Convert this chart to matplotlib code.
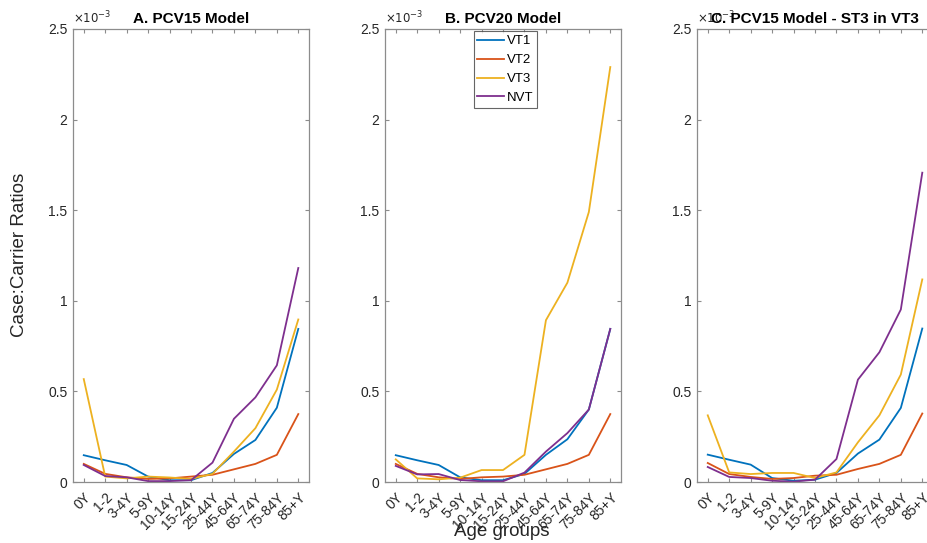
import numpy as np
import matplotlib
matplotlib.use("Agg")
import matplotlib.pyplot as plt
from matplotlib.ticker import FuncFormatter

plt.rcParams['font.family'] = ['Liberation Sans', 'DejaVu Sans']

# age groups on the x axis
ages = ['0Y', '1-2', '3-4Y', '5-9Y', '10-14Y', '15-24Y', '25-44Y',
        '45-64Y', '65-74Y', '75-84Y', '85+Y']
series = ['VT1', 'VT2', 'VT3', 'NVT']
colors = ['#0072BD', '#D95319', '#EDB120', '#7E2F8E']
titles = ['A. PCV15 Model', 'B. PCV20 Model', 'C. PCV15 Model - ST3 in VT3']

# case:carrier ratios, in units of 1e-3
a_vt1 = [0.148, 0.120, 0.094, 0.030, 0.010, 0.010, 0.050, 0.155, 0.232, 0.410, 0.845]
a_vt2 = [0.100, 0.045, 0.026, 0.017, 0.020, 0.030, 0.040, 0.070, 0.100, 0.150, 0.375]
a_vt3 = [0.568, 0.030, 0.020, 0.030, 0.025, 0.017, 0.045, 0.168, 0.297, 0.510, 0.897]
a_nvt = [0.094, 0.033, 0.026, 0.005, 0.005, 0.010, 0.107, 0.349, 0.467, 0.644, 1.181]

b_vt1 = [0.148, 0.120, 0.094, 0.026, 0.010, 0.010, 0.045, 0.150, 0.236, 0.400, 0.845]
b_vt2 = [0.100, 0.045, 0.026, 0.017, 0.026, 0.030, 0.040, 0.070, 0.100, 0.150, 0.375]
b_vt3 = [0.125, 0.020, 0.015, 0.024, 0.066, 0.066, 0.150, 0.893, 1.100, 1.490, 2.290]
b_nvt = [0.089, 0.042, 0.044, 0.011, 0.004, 0.004, 0.052, 0.168, 0.270, 0.400, 0.845]

c_vt1 = [0.151, 0.123, 0.096, 0.022, 0.007, 0.013, 0.050, 0.157, 0.234, 0.409, 0.847]
c_vt2 = [0.105, 0.044, 0.028, 0.017, 0.022, 0.035, 0.040, 0.072, 0.100, 0.150, 0.378]
c_vt3 = [0.368, 0.053, 0.044, 0.050, 0.050, 0.022, 0.053, 0.219, 0.368, 0.593, 1.118]
c_nvt = [0.083, 0.028, 0.022, 0.007, 0.002, 0.013, 0.127, 0.565, 0.716, 0.952, 1.707]

panels = [[a_vt1, a_vt2, a_vt3, a_nvt],
          [b_vt1, b_vt2, b_vt3, b_nvt],
          [c_vt1, c_vt2, c_vt3, c_nvt]]

fig = plt.figure(figsize=(9.28, 5.43), dpi=100)
lefts = [0.0787, 0.4149, 0.7511]
x = np.arange(len(ages))

for i, (left, data) in enumerate(zip(lefts, panels)):
    ax = fig.add_axes([left, 0.1123, 0.2543, 0.8343])
    for vals, col, name in zip(data, colors, series):
        ax.plot(x, np.array(vals) * 1e-3, color=col, lw=1.3, label=name)
    ax.set_xlim(-0.5, 10.5)
    ax.set_ylim(0, 2.5e-3)
    ax.set_yticks(np.arange(0, 2.51e-3, 0.5e-3))
    ax.yaxis.set_major_formatter(FuncFormatter(lambda v, p: f"{v * 1e3:g}"))
    ax.set_xticks(x)
    ax.set_xticklabels(ages, rotation=45, ha='right', rotation_mode='anchor')
    ax.tick_params(direction='in', top=True, right=True, length=3,
                   width=0.8, color='#8c8c8c', labelcolor='#262626',
                   labelsize=10, pad=4)
    ax.tick_params(axis='x', pad=6)
    for s in ax.spines.values():
        s.set_color('#8c8c8c')
        s.set_linewidth(0.9)
    ax.set_title(titles[i], fontsize=11, fontweight='bold', pad=4)
    ax.text(0.0, 1.005, r'$\times10^{-3}$', transform=ax.transAxes,
            fontsize=8.5, color='#262626', ha='left', va='bottom')
    if i == 1:
        leg = ax.legend(loc='upper left', bbox_to_anchor=(0.375, 0.995),
                        fontsize=9.5, frameon=True, fancybox=False,
                        handlelength=2.0, handletextpad=0.2,
                        borderpad=0.3, labelspacing=0.5, borderaxespad=0)
        leg.get_frame().set_edgecolor('#404040')
        leg.get_frame().set_linewidth(0.8)

fig.text(0.021, 0.53, 'Case:Carrier Ratios', rotation=90, fontsize=13.5,
         ha='center', va='center', color='#262626')
fig.text(0.541, 0.022, 'Age groups', fontsize=13.5, ha='center', va='center',
         color='#262626')

fig.savefig('out.png', dpi=100)
